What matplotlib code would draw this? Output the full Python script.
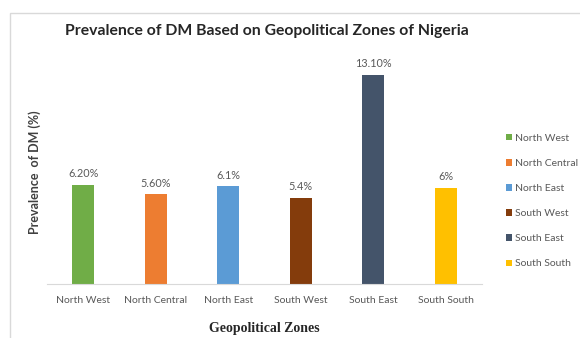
import matplotlib
matplotlib.use("Agg")
import matplotlib.pyplot as plt
from matplotlib.patches import Rectangle

zones = ["North West", "North Central", "North East", "South West", "South East", "South South"]
prevalence = [6.2, 5.6, 6.1, 5.4, 13.1, 6.0]
value_labels = ["6.20%", "5.60%", "6.1%", "5.4%", "13.10%", "6%"]
colours = ["#70AD47", "#ED7D31", "#5B9BD5", "#843C0C", "#44546A", "#FFC000"]

plt.rcParams["font.family"] = ["Lato", "DejaVu Sans"]
grey = "#595959"

fig = plt.figure(figsize=(5.8, 3.38), dpi=100)
# light frame around the chart area
fig.patches.append(Rectangle((10 / 580, -0.1), 1.2, 1 - 13 / 338 + 0.1,
                             transform=fig.transFigure, fill=False,
                             edgecolor="#d9d9d9", lw=1.0))

ax = fig.add_axes([0.081, 0.160, 0.750, 0.662])
x = range(len(zones))
bars = ax.bar(x, prevalence, width=0.30, color=colours, label=zones)
for xi, v, lab in zip(x, prevalence, value_labels):
    ax.text(xi, v + 0.35, lab, ha="center", va="bottom", fontsize=7.8, color=grey)

ax.set_ylim(0, 14)
ax.set_xlim(-0.5, len(zones) - 0.5)
ax.set_yticks([])
ax.set_xticks(list(x))
ax.set_xticklabels(zones, fontsize=7.5, color=grey)
ax.tick_params(axis="x", length=0, pad=9)
for s in ["top", "right", "left"]:
    ax.spines[s].set_visible(False)
ax.spines["bottom"].set_color("#d9d9d9")

ax.set_ylabel("Prevalence  of DM (%)", fontsize=9, fontweight="bold",
              color="#404040", labelpad=4)
ax.set_xlabel("Geopolitical Zones", fontsize=10, fontweight="bold",
              family="Liberation Serif", color="#262626", labelpad=12)
fig.text(267 / 580, 1 - 31 / 338, "Prevalence of DM Based on Geopolitical Zones of Nigeria",
         ha="center", va="center", fontsize=11.3, fontweight="bold", color="#262626")

ax.legend(bars, zones, loc="center left", bbox_to_anchor=(1.045, 0.37), frameon=False,
          borderaxespad=0, fontsize=7.5, labelcolor=grey, handlelength=0.6,
          handleheight=0.6, handletextpad=0.3, labelspacing=1.55)

fig.savefig("out.png")
